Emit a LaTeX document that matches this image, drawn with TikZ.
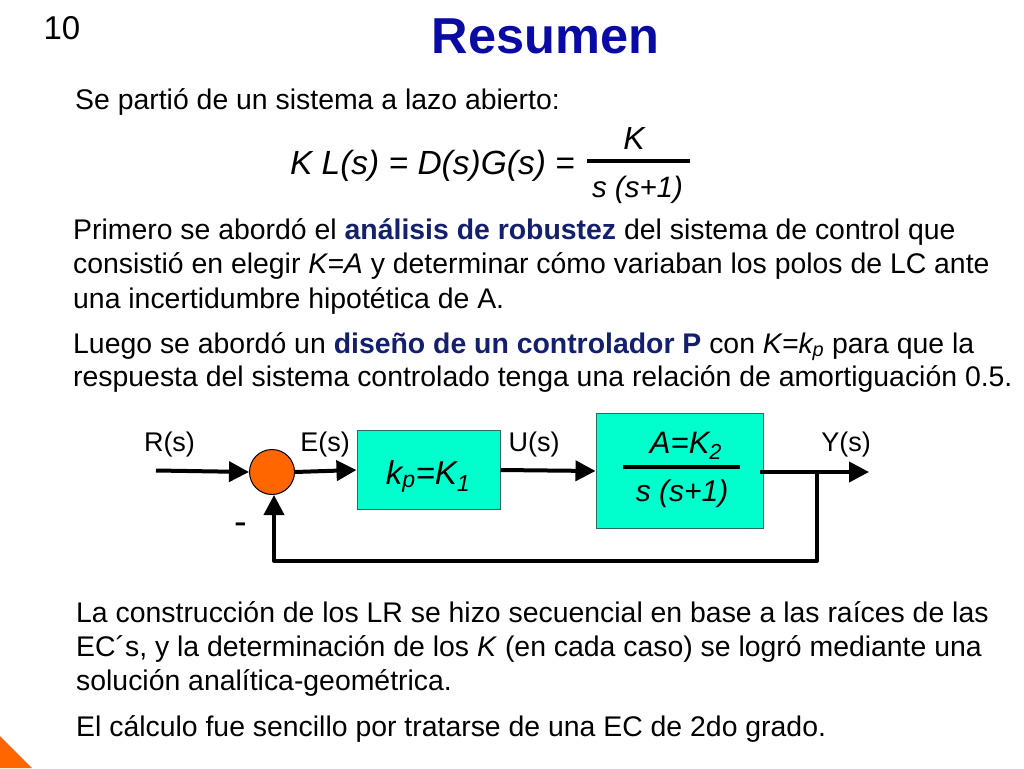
\documentclass[tikz,border=0pt]{standalone}
\usepackage{fontspec}
\setmainfont{Liberation Sans}
\usetikzlibrary{arrows.meta}
\definecolor{boxfill}{HTML}{00FFCC}
\definecolor{boxline}{HTML}{2A6A60}
\definecolor{sumfill}{HTML}{FF6600}
\definecolor{titleblue}{HTML}{0A0AA5}
\definecolor{emphblue}{HTML}{14206E}
\newcommand{\fs}[1]{\fontsize{#1}{#1}\selectfont}
\newcommand{\bem}[1]{\textbf{\textcolor{emphblue}{#1}}}
\tikzset{
  x=1pt,y=-1pt,
  line/.style={anchor=base west,inner sep=0pt,font=\fs{28.4}},
  sig/.style={anchor=base,inner sep=0pt,font=\fs{27}},
  math/.style={anchor=base,inner sep=0pt,font=\fs{33.5}\itshape},
  wire/.style={line width=4pt,black},
  arrowwire/.style={wire,-{Triangle[length=20pt,width=20pt]}},
  block/.style={draw=boxline,line width=1pt,fill=boxfill,inner sep=0pt}
}
\begin{document}
\begin{tikzpicture}
\useasboundingbox (0,0) rectangle (1024,768);
\fill[white] (0,0) rectangle (1024,768);
\fill[sumfill] (0,736) -- (32,768) -- (0,768) -- cycle;
\node[anchor=base,inner sep=0pt,font=\fs{33}] (num) at (62,40) {10};
\node[anchor=base,inner sep=0pt,font=\fs{50.5}\bfseries,text=titleblue] (title) at (545.5,54) {Resumen};
\node[line] (t1) at (75,109) {Se partió de un sistema a lazo abierto:};
\node[math,anchor=base east] (eq) at (575,174) {K L(s) = D(s)G(s) =};
\node[anchor=base,inner sep=0pt,font=\fs{32}\itshape] (eqn) at (634,149) {K};
\node[anchor=base,inner sep=0pt,font=\fs{29.5}\itshape] (eqd) at (637.5,197) {s (s+1)};
\coordinate (eqa) at (587,161);
\coordinate (eqb) at (690,161);
\draw[line width=3.5pt] (eqa) -- (eqb);
\node[line] (p1) at (73,239) {Primero se abordó el \bem{análisis de robustez} del sistema de control que};
\node[line] (p2) at (73,273) {consistió en elegir \textit{K=A} y determinar cómo variaban los polos de LC ante};
\node[line] (p3) at (73,308) {una incertidumbre hipotética de A.};
\node[line] (p4) at (73,353) {Luego se abordó un \bem{diseño de un controlador P} con \textit{K=k\textsubscript{p}} para que la};
\node[line] (p5) at (73,386) {respuesta del sistema controlado tenga una relación de amortiguación 0.5.};
\node[line] (p6) at (76,622) {La construcción de los LR se hizo secuencial en base a las raíces de las};
\node[line] (p7) at (76,656) {EC´s, y la determinación de los \textit{K} (en cada caso) se logró mediante una};
\node[line] (p8) at (76,690) {solución analítica-geométrica.};
\node[line] (p9) at (76,736) {El cálculo fue sencillo por tratarse de una EC de 2do grado.};
% block diagram
\node[sig] (rs) at (169.5,451) {R(s)};
\node[sig] (es) at (325,451) {E(s)};
\node[sig] (us) at (534,451) {U(s)};
\node[sig] (ys) at (846,451) {Y(s)};
\node[block,minimum width=143pt,minimum height=79pt] (b1) at (428.5,470) {};
\node[anchor=base,inner sep=0pt,font=\fs{33}\itshape] (b1t) at (428,484) {k\textsubscript{p}=K\textsubscript{1}};
\node[block,minimum width=167pt,minimum height=115pt] (b2) at (679.5,471) {};
\node[anchor=base,inner sep=0pt,font=\fs{31}\itshape] (b2n) at (686,453) {A=K\textsubscript{2}};
\node[anchor=base,inner sep=0pt,font=\fs{30}\itshape] (b2d) at (682,501) {s (s+1)};
\coordinate (b2a) at (623,467);
\coordinate (b2b) at (740,467);
\draw[line width=3.5pt] (b2a) -- (b2b);
\node[circle,draw=black,line width=1pt,fill=sumfill,minimum size=45pt,inner sep=0pt] (sum) at (272,472) {};
\coordinate (rin) at (156,470.5);
\coordinate (yout) at (869,472);
\coordinate (ystart) at (760,472);
\coordinate (tap) at (817,474);
\coordinate (c1) at (817,561);
\coordinate (c2) at (274,561);
\draw[arrowwire] (rin) -- (sum.west);
\draw[arrowwire] (sum.east) -- (b1.west);
\draw[arrowwire] (b1.east) -- (b2.west);
\draw[arrowwire] (ystart) -- (yout);
\draw[wire,line join=round,line cap=round] (tap) -- (c1) -- (c2);
\draw[arrowwire] (c2) -- (c2 |- sum.south);
\node[anchor=base,inner sep=0pt,font=\fs{38}] (minus) at (241,534) {-};
\end{tikzpicture}
\end{document}
